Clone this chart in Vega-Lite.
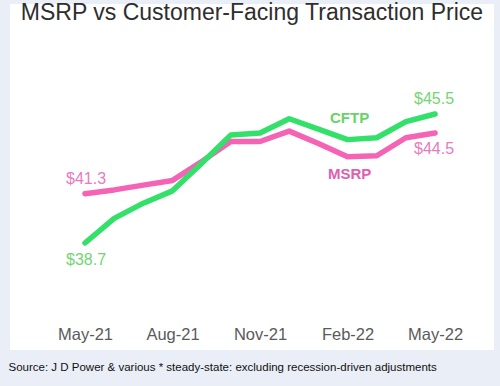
{
  "$schema": "https://vega.github.io/schema/vega-lite/v6.json",
  "autosize": "none",
  "width": 484,
  "height": 346,
  "padding": {"left": 10, "top": 4, "right": 6, "bottom": 36},
  "background": "#e9eef7",
  "config": {"view": {"fill": "white", "stroke": null}},
  "title": {
    "text": "MSRP vs Customer-Facing Transaction Price",
    "font": "Liberation Sans",
    "fontSize": 23,
    "fontWeight": "normal",
    "color": "#2e2e2e",
    "anchor": "middle",
    "frame": "group",
    "baseline": "alphabetic",
    "offset": -39
  },
  "datasets": {
    "prices": [
      {"month": "May-21", "i": 0, "series": "MSRP", "value": 41.3},
      {"month": "Jun-21", "i": 1, "series": "MSRP", "value": 41.5},
      {"month": "Jul-21", "i": 2, "series": "MSRP", "value": 41.75},
      {"month": "Aug-21", "i": 3, "series": "MSRP", "value": 42.0},
      {"month": "Sep-21", "i": 4, "series": "MSRP", "value": 43.0},
      {"month": "Oct-21", "i": 5, "series": "MSRP", "value": 44.05},
      {"month": "Nov-21", "i": 6, "series": "MSRP", "value": 44.05},
      {"month": "Dec-21", "i": 7, "series": "MSRP", "value": 44.6},
      {"month": "Jan-22", "i": 8, "series": "MSRP", "value": 43.95},
      {"month": "Feb-22", "i": 9, "series": "MSRP", "value": 43.25},
      {"month": "Mar-22", "i": 10, "series": "MSRP", "value": 43.3},
      {"month": "Apr-22", "i": 11, "series": "MSRP", "value": 44.25},
      {"month": "May-22", "i": 12, "series": "MSRP", "value": 44.5},
      {"month": "May-21", "i": 0, "series": "CFTP", "value": 38.7},
      {"month": "Jun-21", "i": 1, "series": "CFTP", "value": 40.0},
      {"month": "Jul-21", "i": 2, "series": "CFTP", "value": 40.8},
      {"month": "Aug-21", "i": 3, "series": "CFTP", "value": 41.45},
      {"month": "Sep-21", "i": 4, "series": "CFTP", "value": 42.9},
      {"month": "Oct-21", "i": 5, "series": "CFTP", "value": 44.4},
      {"month": "Nov-21", "i": 6, "series": "CFTP", "value": 44.5},
      {"month": "Dec-21", "i": 7, "series": "CFTP", "value": 45.25},
      {"month": "Jan-22", "i": 8, "series": "CFTP", "value": 44.7},
      {"month": "Feb-22", "i": 9, "series": "CFTP", "value": 44.15},
      {"month": "Mar-22", "i": 10, "series": "CFTP", "value": 44.25},
      {"month": "Apr-22", "i": 11, "series": "CFTP", "value": 45.1},
      {"month": "May-22", "i": 12, "series": "CFTP", "value": 45.5}
    ]
  },
  "data": {"name": "prices"},
  "encoding": {
    "x": {
      "field": "i",
      "type": "quantitative",
      "scale": {"domain": [-2.571, 14.02], "nice": false, "zero": false},
      "axis": {
        "values": [0, 3, 6, 9, 12],
        "labelExpr": "['May-21','Jun-21','Jul-21','Aug-21','Sep-21','Oct-21','Nov-21','Dec-21','Jan-22','Feb-22','Mar-22','Apr-22','May-22'][datum.value]",
        "grid": false,
        "domain": false,
        "ticks": false,
        "tickSize": 0,
        "offset": -16,
        "labelPadding": 0,
        "labelBaseline": "middle",
        "labelFont": "Liberation Sans",
        "labelFontSize": 16.5,
        "labelColor": "#5a5a5a",
        "labelFlush": false,
        "title": "Source: J D Power & various  * steady-state: excluding recession-driven adjustments",
        "titleFont": "Liberation Sans",
        "titleFontSize": 11.5,
        "titleFontWeight": "normal",
        "titleColor": "#111111",
        "titleAnchor": "start",
        "titleAlign": "left",
        "titleBaseline": "middle",
        "titleX": -2,
        "titleY": 33
      }
    },
    "y": {
      "field": "value",
      "type": "quantitative",
      "scale": {"domain": [33.06, 51.3], "nice": false, "zero": false},
      "axis": null
    }
  },
  "layer": [
    {
      "data": {"values": [{}]},
      "mark": {"type": "rule", "color": "#f0f0f0", "strokeWidth": 1},
      "encoding": {
        "x": {"datum": -0.17, "type": "quantitative"},
        "x2": {"datum": 12.75},
        "y": {"datum": 34.9, "type": "quantitative"}
      }
    },
    {
      "mark": {"type": "line", "strokeWidth": 5.5, "strokeJoin": "round", "strokeCap": "round"},
      "encoding": {
        "color": {
          "field": "series",
          "type": "nominal",
          "scale": {"domain": ["MSRP", "CFTP"], "range": ["#f564b4", "#33e06a"]},
          "legend": null
        }
      }
    },
    {
      "transform": [{"filter": "datum.i == 0 && datum.series == 'MSRP'"}],
      "mark": {"type": "text", "align": "left", "baseline": "middle", "dx": -19, "dy": -15, "font": "Liberation Sans", "fontSize": 16, "color": "#e57cc0"},
      "encoding": {"text": {"field": "value", "format": "$.1f"}}
    },
    {
      "transform": [{"filter": "datum.i == 0 && datum.series == 'CFTP'"}],
      "mark": {"type": "text", "align": "left", "baseline": "middle", "dx": -19, "dy": 17, "font": "Liberation Sans", "fontSize": 16, "color": "#72d672"},
      "encoding": {"text": {"field": "value", "format": "$.1f"}}
    },
    {
      "transform": [{"filter": "datum.i == 12 && datum.series == 'CFTP'"}],
      "mark": {"type": "text", "align": "left", "baseline": "middle", "dx": -21, "dy": -15, "font": "Liberation Sans", "fontSize": 16, "color": "#72d672"},
      "encoding": {"text": {"field": "value", "format": "$.1f"}}
    },
    {
      "transform": [{"filter": "datum.i == 12 && datum.series == 'MSRP'"}],
      "mark": {"type": "text", "align": "left", "baseline": "middle", "dx": -21, "dy": 16, "font": "Liberation Sans", "fontSize": 16, "color": "#e57cc0"},
      "encoding": {"text": {"field": "value", "format": "$.1f"}}
    },
    {
      "transform": [{"filter": "datum.i == 9 && datum.series == 'CFTP'"}],
      "mark": {"type": "text", "align": "center", "baseline": "middle", "dx": 2, "dy": -22, "font": "Liberation Sans", "fontSize": 15, "fontWeight": "bold", "color": "#66d466"},
      "encoding": {"text": {"field": "series"}}
    },
    {
      "transform": [{"filter": "datum.i == 9 && datum.series == 'MSRP'"}],
      "mark": {"type": "text", "align": "center", "baseline": "middle", "dx": 2, "dy": 17, "font": "Liberation Sans", "fontSize": 15, "fontWeight": "bold", "color": "#e060b0"},
      "encoding": {"text": {"field": "series"}}
    }
  ]
}
